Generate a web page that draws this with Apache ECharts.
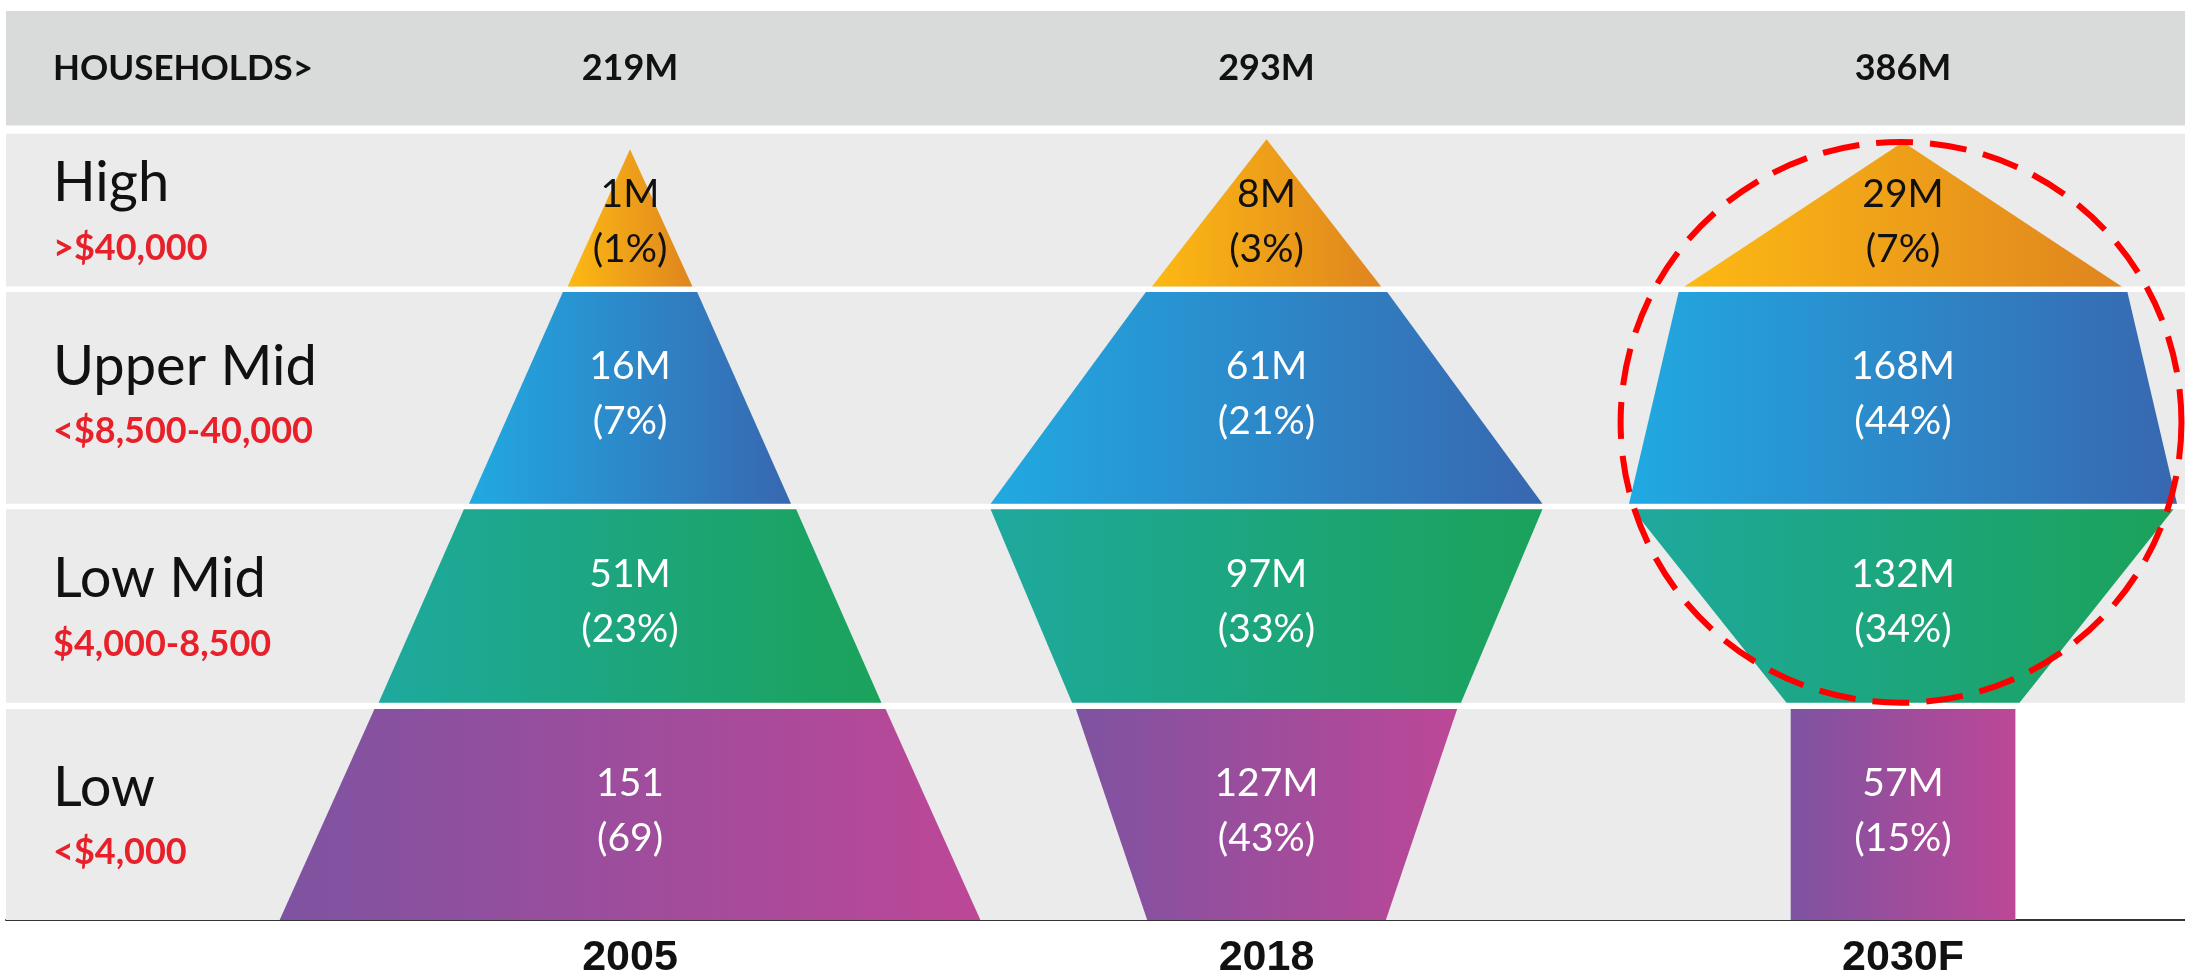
<!DOCTYPE html>
<html>
<head>
<meta charset="utf-8">
<title>Households by income tier</title>
<script src="https://cdn.jsdelivr.net/npm/echarts@6/dist/echarts.min.js"></script>
<style>
  html, body { margin: 0; padding: 0; background: #fff; }
  #chart { width: 2185px; height: 980px; }
</style>
</head>
<body>
<div id="chart"></div>
<script>
const years = ['2005', '2018', '2030F'];
const totals = ['219M', '293M', '386M'];
const tiers = ['High', 'Upper Mid', 'Low Mid', 'Low'];
const bands = ['>$40,000', '<$8,500-40,000', '$4,000-8,500', '<$4,000'];
// households in each tier, as printed on the blocks
const amounts = [
  ['1M', '16M', '51M', '151'],
  ['8M', '61M', '97M', '127M'],
  ['29M', '168M', '132M', '57M']
];
const shares = [
  ['(1%)', '(7%)', '(23%)', '(69)'],
  ['(3%)', '(21%)', '(33%)', '(43%)'],
  ['(7%)', '(44%)', '(34%)', '(15%)']
];
// width of each block at the top and bottom of its tier (1 = gap between two years)
const topWidth = [
  [0, 0.211, 0.522, 0.803],
  [0, 0.379, 0.867, 0.599],
  [0, 0.705, 0.850, 0.353]
];
const bottomWidth = [
  [0.196, 0.506, 0.790, 1.101],
  [0.360, 0.867, 0.611, 0.375],
  [0.687, 0.861, 0.366, 0.353]
];

// layout (y axis runs 0..100 top to bottom)
const headerBottom = 12.6;
const tierTop = [13.5, 30.9, 54.8, 76.8];
const tierBottom = [30.3, 54.2, 76.1, 100];
const apexTop = [15.2, 14.1, 14.4];
const colors = [
  ['#FDB913', '#DF851F'],
  ['#21A9E1', '#3867B0'],
  ['#1EA99E', '#1BA25A'],
  ['#7E53A1', '#BD4797']
];
const textFont = 'Lato, "Open Sans", sans-serif';

const chart = echarts.init(document.getElementById('chart'));

const blockData = [];
years.forEach((y, i) => {
  tiers.forEach((t, j) => blockData.push([i + 1, j]));
});

function renderBand(params, api) {
  const cs = params.coordSys;
  const j = api.value(0);
  if (j < 0) {
    const y0 = api.coord([0, 0])[1];
    const y1 = api.coord([0, headerBottom])[1];
    return {
      type: 'group',
      children: [
        { type: 'rect', shape: { x: cs.x, y: y0, width: cs.width, height: y1 - y0 }, style: { fill: '#D9DADA' } },
        { type: 'text', style: { text: 'HOUSEHOLDS>', x: cs.x + 47, y: (y0 + y1) / 2, align: 'left', verticalAlign: 'middle',
          fill: '#111', font: 'bold 35px ' + textFont } }
      ]
    };
  }
  const y0 = api.coord([0, tierTop[j]])[1];
  const y1 = api.coord([0, tierBottom[j]])[1];
  let x1 = cs.x + cs.width;
  if (j === tiers.length - 1) {
    // last tier background stops at the right edge of the 2030F block
    x1 = api.coord([years.length + bottomWidth[years.length - 1][j] / 2, 0])[0];
  }
  const mid = (y0 + y1) / 2 + (j === 1 ? 0 : 4);
  return {
    type: 'group',
    children: [
      { type: 'rect', shape: { x: cs.x, y: y0, width: x1 - cs.x, height: y1 - y0 }, style: { fill: '#EAEBEA' } },
      { type: 'text', style: { text: tiers[j], x: cs.x + 47, y: mid - 31, align: 'left', verticalAlign: 'middle',
        fill: '#111', font: '56px ' + textFont } },
      { type: 'text', style: { text: bands[j], x: cs.x + 47, y: mid + 34, align: 'left', verticalAlign: 'middle',
        fill: '#E8202A', font: 'bold 36px ' + textFont } }
    ]
  };
}

function renderTotal(params, api) {
  const i = api.value(0);
  const p0 = api.coord([i, 0]);
  const p1 = api.coord([i, headerBottom]);
  return {
    type: 'text',
    style: { text: totals[i - 1], x: p0[0], y: (p0[1] + p1[1]) / 2, align: 'center', verticalAlign: 'middle',
      fill: '#111', font: 'bold 36px ' + textFont }
  };
}

function renderBlock(params, api) {
  const i = api.value(0);
  const j = api.value(1);
  const top = j === 0 ? apexTop[i - 1] : tierTop[j];
  const cx = api.coord([i, 0])[0];
  const y0 = api.coord([i, top])[1];
  const y1 = api.coord([i, tierBottom[j]])[1];
  const wt = api.size([topWidth[i - 1][j], 0])[0] / 2;
  const wb = api.size([bottomWidth[i - 1][j], 0])[0] / 2;
  const rowMid = (api.coord([i, tierTop[j]])[1] + y1) / 2;
  const ly = j === 0 ? rowMid + 12 : rowMid - 4;
  return {
    type: 'group',
    children: [
      {
        type: 'polygon',
        shape: { points: [[cx - wt, y0], [cx + wt, y0], [cx + wb, y1], [cx - wb, y1]] },
        style: {
          fill: new echarts.graphic.LinearGradient(0, 0, 1, 0, [
            { offset: 0, color: colors[j][0] },
            { offset: 1, color: colors[j][1] }
          ])
        }
      },
      {
        type: 'text',
        style: {
          text: amounts[i - 1][j] + '\n' + shares[i - 1][j],
          x: cx, y: ly, align: 'center', verticalAlign: 'middle', lineHeight: 55,
          fill: j === 0 ? '#111' : '#fff', font: '39px ' + textFont
        }
      }
    ]
  };
}

function renderHighlight(params, api) {
  const i = api.value(0);
  const cx = api.coord([i, 0])[0] - 2;
  const yTop = api.coord([i, apexTop[i - 1]])[1];
  const yBot = api.coord([i, tierBottom[2]])[1];
  return {
    type: 'circle',
    shape: { cx: cx, cy: (yTop + yBot) / 2, r: (yBot - yTop) / 2 },
    style: { fill: 'none', stroke: '#FF0000', lineWidth: 6, lineDash: [37, 17] }
  };
}

const option = {
  animation: false,
  backgroundColor: '#fff',
  grid: { left: 6, right: 0, top: 11, bottom: 57 },
  xAxis: {
    type: 'value',
    min: 0.0196,
    max: 3.443,
    position: 'bottom',
    axisLine: { show: true, onZero: false, lineStyle: { color: '#333', width: 2 } },
    axisTick: { show: false },
    splitLine: { show: false },
    axisLabel: {
      customValues: [1, 2, 3],
      formatter: v => years[Math.round(v) - 1],
      margin: 17,
      color: '#111',
      fontSize: 43,
      fontWeight: 'bold',
      fontFamily: '"Liberation Sans", Arial, sans-serif'
    }
  },
  yAxis: { type: 'value', inverse: true, min: 0, max: 100, show: false },
  series: [
    { type: 'custom', name: 'bands', renderItem: renderBand, data: [[-1], [0], [1], [2], [3]], silent: true, clip: false },
    { type: 'custom', name: 'totals', renderItem: renderTotal, data: years.map((y, i) => [i + 1]), silent: true, clip: false },
    { type: 'custom', name: 'blocks', renderItem: renderBlock, data: blockData, clip: false },
    { type: 'custom', name: 'highlight', renderItem: renderHighlight, data: [[3]], silent: true, clip: false }
  ]
};
chart.setOption(option);
</script>
</body>
</html>
